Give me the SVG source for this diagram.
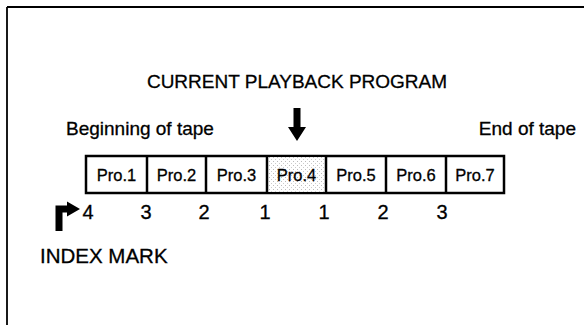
<svg xmlns="http://www.w3.org/2000/svg" width="584" height="325" viewBox="0 0 584 325">
<style>
text{font-family:"Liberation Sans",Arial,sans-serif;fill:#000;stroke:#000;stroke-width:0.3}
.big{font-size:19px}
.idx{font-size:20.5px}
.lbl{font-size:19px}
.pro{font-size:16.5px;text-anchor:middle}
.num{font-size:20px;text-anchor:middle}
.box{fill:#fff;stroke:#000;stroke-width:2.5}
</style>
<defs>
<pattern id="stip" width="4" height="4" patternUnits="userSpaceOnUse">
<rect width="4" height="4" fill="#fff"/>
<rect x="1" y="1" width="1" height="1" fill="#bbb"/>
<rect x="3" y="3" width="1" height="1" fill="#ccc"/>
</pattern>
</defs>
<g id="frame">
<line x1="7" y1="7" x2="584" y2="7" stroke="#000" stroke-width="1.8"/>
<line x1="7" y1="7" x2="7" y2="325" stroke="#000" stroke-width="1.8"/>
</g>
<g id="title">
<text class="big" x="297" y="88" text-anchor="middle">CURRENT PLAYBACK PROGRAM</text>
<path d="M293.5 108 H300.5 V127 H306 L297 141 L288 127 H293.5 Z" fill="#000"/>
</g>
<g id="labels">
<text class="lbl" x="66" y="135">Beginning of tape</text>
<text class="lbl" x="576" y="135" text-anchor="end">End of tape</text>
</g>
<g id="tape">
<rect class="box" x="86" y="156" width="418" height="37"/>
<rect x="267" y="157.2" width="59" height="34.6" fill="url(#stip)"/>
<g stroke="#000" stroke-width="2.5">
<line x1="147" y1="156" x2="147" y2="193"/>
<line x1="206" y1="156" x2="206" y2="193"/>
<line x1="267" y1="156" x2="267" y2="193"/>
<line x1="326" y1="156" x2="326" y2="193"/>
<line x1="386" y1="156" x2="386" y2="193"/>
<line x1="446" y1="156" x2="446" y2="193"/>
</g>
<text class="pro" x="116.5" y="181">Pro.1</text>
<text class="pro" x="176.5" y="181">Pro.2</text>
<text class="pro" x="236.5" y="181">Pro.3</text>
<text class="pro" x="296.5" y="181">Pro.4</text>
<text class="pro" x="356" y="181">Pro.5</text>
<text class="pro" x="416" y="181">Pro.6</text>
<text class="pro" x="475" y="181">Pro.7</text>
</g>
<g id="numbers">
<text class="num" x="88" y="219">4</text>
<text class="num" x="146" y="219">3</text>
<text class="num" x="204" y="219">2</text>
<text class="num" x="265" y="219">1</text>
<text class="num" x="324" y="219">1</text>
<text class="num" x="383" y="219">2</text>
<text class="num" x="442" y="219">3</text>
</g>
<g id="index-mark">
<path d="M55.5 231 V205.5 H67 V201.5 L80 209 L67 216.5 V212.5 H62.5 V231 Z" fill="#000"/>
<text class="idx" x="40" y="263">INDEX MARK</text>
</g>
</svg>
